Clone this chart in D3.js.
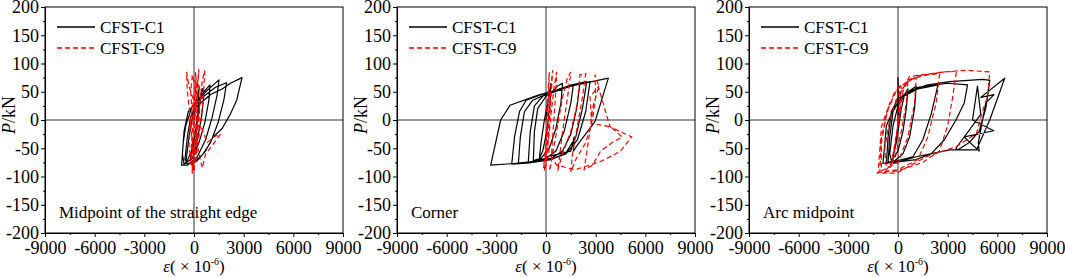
<!DOCTYPE html>
<html>
<head>
<meta charset="utf-8">
<style>
  body { margin: 0; background: #fff; }
  text { font-family: "Liberation Serif", "Times New Roman", serif; fill: #000; }
</style>
</head>
<body>
<script src="https://d3js.org/d3.v7.min.js"></script>
<script>
  // panel titles
  const panelNames = ['Midpoint of the straight edge', 'Corner', 'Arc midpoint'];
  const seriesNames = ['CFST-C1', 'CFST-C9'];

  const xTicks = [-9000, -6000, -3000, 0, 3000, 6000, 9000];
  const yTicks = [-200, -150, -100, -50, 0, 50, 100, 150, 200];

  // [strain (x10^-6), load kN]
  const c1Straight = [[0,0],[150,35],[300,55],[250,20],[100,-20],[-100,-55],[-250,-72],[-50,-65],[200,-35],[450,5],[600,45],[500,56],[350,30],[150,-15],[-150,-55],[-450,-75],[-550,-70],[-400,-30],[-200,5],[150,30],[600,50],[966,62],[900,35],[650,-5],[300,-40],[-100,-68],[-600,-78],[-700,-60],[-600,-20],[-350,15],[200,35],[900,55],[1510,71],[1400,45],[1100,5],[700,-35],[200,-65],[-400,-80],[-750,-80],[-650,-40],[-500,-10],[-100,25],[600,42],[1300,58],[1970,66],[1800,35],[1450,-5],[1000,-40],[500,-62],[-100,-76],[-500,-77],[-300,-30],[0,20],[1000,45],[1700,55],[2200,65],[2900,75],[2580,35],[2170,9],[1700,-15],[1150,-30],[700,-55],[200,-72],[-200,-78]];
  const c9Straight = [[0,0],[80,30],[150,60],[100,85],[50,50],[-50,0],[-150,-40],[-200,-75],[-100,-85],[0,-60],[100,-20],[200,30],[250,70],[300,90],[200,60],[100,20],[-50,-30],[-150,-70],[-100,-95],[0,-80],[150,-40],[250,10],[-300,60],[-450,85],[-400,50],[-250,10],[-100,-40],[0,-90],[100,-70],[300,-30],[500,20],[600,60],[650,88],[500,70],[350,30],[200,-10],[0,-60],[-100,-88],[50,-50],[400,-10],[800,-40],[1200,-30],[1600,-25],[1100,-45],[700,-60],[500,-85],[300,-60],[100,-30],[-100,10],[-200,50],[-100,80],[50,60],[200,20],[100,-40],[-200,-70],[-300,-45],[-200,0],[0,40],[200,70],[400,50],[300,0],[100,-50]];

  const c1Corner = [[0,0],[150,40],[300,65],[250,30],[50,-20],[-200,-55],[-400,-68],[-300,-40],[-100,0],[200,45],[700,60],[1000,65],[900,30],[600,-15],[200,-50],[-300,-68],[-765,-72],[-700,-20],[-500,20],[0,42],[800,55],[1650,62],[1500,30],[1100,-20],[600,-55],[0,-68],[-600,-72],[-1070,-75],[-950,-20],[-700,25],[-200,42],[1000,55],[2050,65],[1850,20],[1500,-25],[1000,-55],[300,-68],[-800,-73],[-1670,-77],[-1550,-30],[-1300,15],[-800,35],[200,48],[1500,62],[2460,68],[2200,20],[1800,-30],[1200,-58],[300,-70],[-1000,-76],[-2070,-78],[-1900,-30],[-1600,15],[-1200,35],[-300,45],[1200,58],[2660,68],[2400,15],[1900,-35],[1200,-60],[300,-70],[-1970,-77],[-3340,-80],[-2740,0],[-2175,26],[-465,44],[1500,60],[3765,74],[2960,-3],[2000,-40],[1650,-55],[1700,-30],[1500,-55],[40,-65]];
  const c9Corner = [[0,0],[100,40],[200,85],[150,40],[50,-20],[-100,-70],[-150,-85],[0,-60],[150,0],[300,60],[400,88],[300,40],[150,-30],[0,-80],[-100,-90],[100,-50],[300,10],[500,60],[645,85],[550,30],[400,-30],[300,-80],[200,-90],[400,-60],[700,-10],[1000,40],[1300,75],[1500,85],[1300,40],[1000,-20],[800,-70],[700,-90],[1000,-60],[1500,-20],[1900,30],[2050,80],[2400,82],[2200,40],[1900,-10],[1600,-60],[1500,-92],[1800,-70],[2400,-40],[2800,0],[3000,40],[2960,80],[3200,60],[2800,20],[2700,-10],[2500,-50],[2300,-88],[2800,-80],[3300,-55],[4000,-40],[4600,-30],[3900,-12],[2760,-6],[2660,41],[3160,59],[3865,-12],[5175,-30],[4470,-56],[3260,-74],[1750,-88],[645,-80],[200,-60],[0,-20]];

  const c1Arc = [[0,0],[0,75],[50,30],[0,-10],[-200,-50],[-300,-65],[-100,-40],[200,20],[400,45],[600,55],[500,20],[300,-20],[0,-55],[-400,-72],[-500,-60],[-300,-10],[0,25],[400,45],[1100,60],[1000,20],[700,-30],[300,-60],[-200,-72],[-600,-75],[-500,-30],[-300,15],[200,40],[1200,55],[2415,62],[2000,10],[1500,-35],[900,-65],[0,-72],[-700,-77],[-600,-30],[-400,15],[0,38],[1200,58],[3000,65],[4200,62],[4000,30],[3500,0],[2800,-35],[2000,-60],[1100,-70],[0,-74],[-905,-77],[-700,-10],[-300,18],[300,44],[1715,62],[3120,68],[5130,72],[5540,70],[5300,20],[4900,-20],[4300,-40],[3600,-53],[3500,-50],[5000,10],[4800,60],[4500,0],[5780,-19],[4000,-30],[4900,-55],[4850,-40],[5300,30],[5800,45],[5000,40],[6445,74],[5540,0],[4735,-53],[3120,-53],[1110,-65],[-300,-77]];
  const c9Arc = [[0,0],[100,40],[200,60],[100,20],[-100,-30],[-300,-70],[-500,-85],[-300,-60],[0,-10],[300,50],[600,70],[500,30],[200,-20],[-200,-70],[-700,-88],[-800,-50],[-500,0],[0,45],[600,68],[1100,75],[1000,30],[600,-30],[0,-75],[-1000,-90],[-1000,-40],[-700,10],[-200,50],[700,72],[1800,80],[2520,82],[2300,30],[1800,-30],[1200,-70],[0,-88],[-1100,-92],[-1000,-30],[-600,20],[0,58],[1200,78],[2800,85],[3530,86],[3300,40],[3000,-10],[2500,-55],[1500,-75],[0,-90],[-1200,-93],[-1000,-12],[-500,30],[-100,35],[700,77],[2720,85],[4130,88],[5540,85],[5400,40],[5130,18],[4735,-24],[3530,-47],[1715,-65],[-100,-94],[-1300,-94]];

  const c1Series = [c1Straight, c1Corner, c1Arc];
  const c9Series = [c9Straight, c9Corner, c9Arc];

  const W = 1065, H = 277;
  const panelLeft = 45, panelStep = 352, pw = 298;
  const plotTop = 7, ph = 226;

  const svg = d3.select('body').append('svg')
    .attr('width', W)
    .attr('height', H);

  const xScale = d3.scaleLinear().domain([-9000, 9000]).range([0, pw]);
  const yScale = d3.scaleLinear().domain([-200, 200]).range([ph, 0]);

  const line = d3.line()
    .x(d => xScale(d[0]))
    .y(d => yScale(d[1]));

  const xMinor = d3.range(-7500, 9000, 3000);
  const yMinor = d3.range(-175, 200, 50);

  panelNames.forEach((name, i) => {
    const g = svg.append('g')
      .attr('transform', `translate(${panelLeft + panelStep * i},${plotTop})`);

    // zero lines
    g.append('line')
      .attr('x1', 0).attr('x2', pw)
      .attr('y1', yScale(0)).attr('y2', yScale(0))
      .attr('stroke', '#333').attr('stroke-width', 1);
    g.append('line')
      .attr('x1', xScale(0)).attr('x2', xScale(0))
      .attr('y1', 0).attr('y2', ph)
      .attr('stroke', '#333').attr('stroke-width', 1);

    // curves
    g.append('path')
      .datum(c1Series[i])
      .attr('d', line)
      .attr('fill', 'none')
      .attr('stroke', '#000')
      .attr('stroke-width', 1.2)
      .attr('stroke-linejoin', 'round');
    g.append('path')
      .datum(c9Series[i])
      .attr('d', line)
      .attr('fill', 'none')
      .attr('stroke', '#ff0000')
      .attr('stroke-width', 1.2)
      .attr('stroke-dasharray', '5,3');

    // frame
    g.append('rect')
      .attr('width', pw).attr('height', ph)
      .attr('fill', 'none')
      .attr('stroke', '#000').attr('stroke-width', 1);

    // axes
    const xAxis = g.append('g')
      .attr('transform', `translate(0,${ph})`)
      .call(d3.axisBottom(xScale).tickValues(xTicks).tickSize(4).tickPadding(4)
        .tickFormat(d => String(d)));
    g.append('g')
      .attr('transform', `translate(0,${ph})`)
      .call(d3.axisBottom(xScale).tickValues(xMinor).tickSize(2).tickFormat(''))
      .call(a => a.select('.domain').remove());
    const yAxis = g.append('g')
      .call(d3.axisLeft(yScale).tickValues(yTicks).tickSize(4).tickPadding(2)
        .tickFormat(d => String(d)));
    g.append('g')
      .call(d3.axisLeft(yScale).tickValues(yMinor).tickSize(2).tickFormat(''))
      .call(a => a.select('.domain').remove());

    [xAxis, yAxis].forEach(a => {
      a.selectAll('text')
        .style('font-family', '"Liberation Serif", serif')
        .style('font-size', '18px')
        .attr('fill', '#000');
      a.select('.domain').attr('stroke', '#000');
    });

    // legend
    const leg = g.append('g').attr('transform', 'translate(12,20)');
    seriesNames.forEach((s, j) => {
      leg.append('line')
        .attr('x1', 0).attr('x2', 38)
        .attr('y1', j * 21).attr('y2', j * 21)
        .attr('stroke', j === 0 ? '#000' : '#ff0000')
        .attr('stroke-width', 1.3)
        .attr('stroke-dasharray', j === 0 ? null : '5,3');
      leg.append('text')
        .attr('x', 43).attr('y', j * 21 + 6)
        .style('font-size', '17px')
        .text(s);
    });

    // location label
    g.append('text')
      .attr('x', 14).attr('y', 211)
      .style('font-size', '17px')
      .text(name);

    // axis titles
    const xt = g.append('text')
      .attr('x', xScale(0)).attr('y', 265)
      .attr('text-anchor', 'middle')
      .style('font-size', '17px');
    xt.append('tspan').style('font-style', 'italic').text('ε');
    xt.append('tspan').text('( × 10');
    xt.append('tspan').attr('dy', -7).style('font-size', '10px').text('-6');
    xt.append('tspan').attr('dy', 7).text(')');

    const yt = g.append('text')
      .attr('transform', `translate(-30,${yScale(0) - 5}) rotate(-90)`)
      .attr('text-anchor', 'middle')
      .style('font-size', '18px');
    yt.append('tspan').style('font-style', 'italic').text('P');
    yt.append('tspan').text('/kN');
  });
</script>
</body>
</html>
